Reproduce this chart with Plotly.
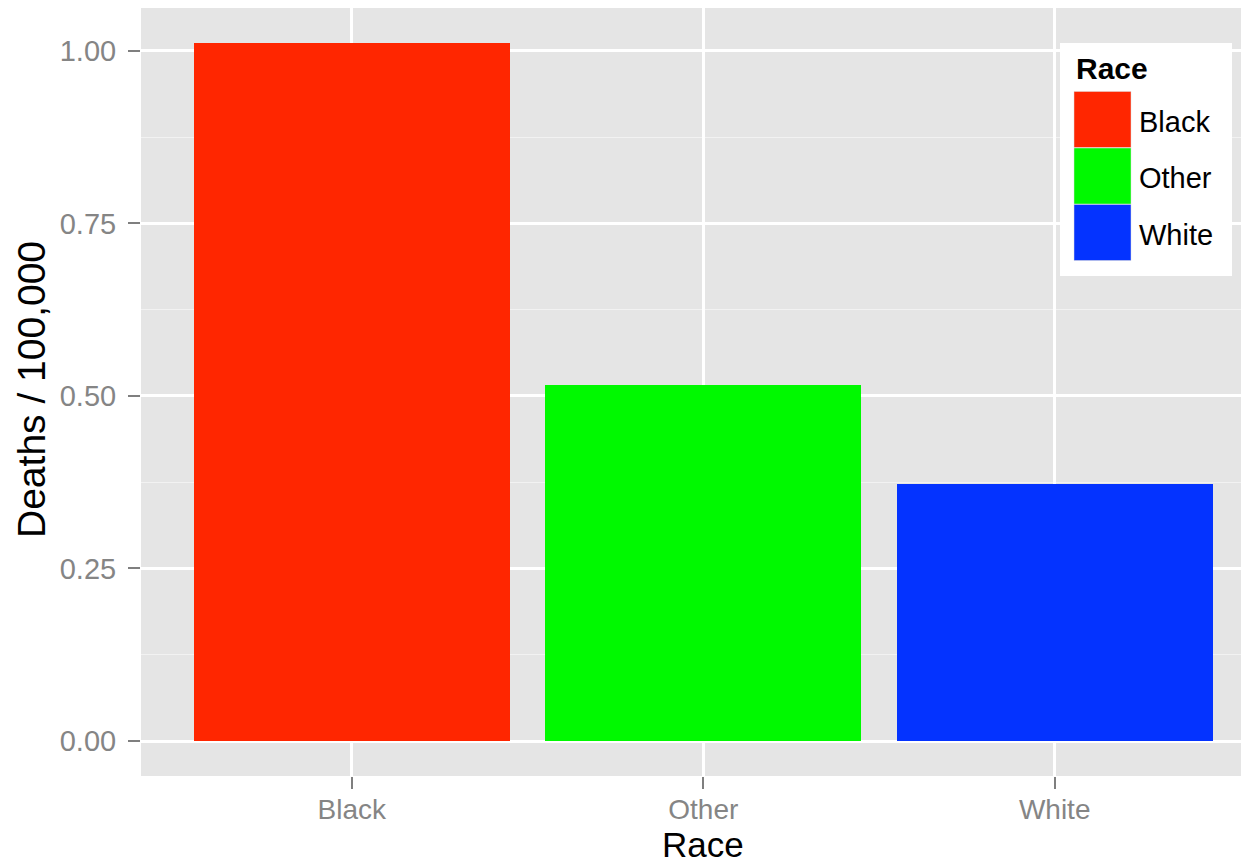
import plotly.graph_objects as go

# ---- data ----
categories = ["Black", "Other", "White"]
deaths_per_100k = [1.012, 0.516, 0.373]
bar_colors = ["#FF2600", "#00F900", "#0433FF"]
y_tick_vals = [0.0, 0.25, 0.5, 0.75, 1.0]
y_tick_text = ["0.00", "0.25", "0.50", "0.75", "1.00"]
legend_title = "Race"

# page body has an 8px margin; compensate so the panel lands where it should
OFF = 8
PANEL_L, PANEL_T, PANEL_R, PANEL_B = 141, 8, 1249, 776
W, H = 1249 - OFF, 865 - OFF
L = PANEL_L - OFF
T = PANEL_T - OFF
R = 0
B = H - (PANEL_B - OFF)
PW, PH = PANEL_R - PANEL_L, PANEL_B - PANEL_T

def px(x):
    return (x - PANEL_L) / PW

def py(y):
    return (PANEL_B - y) / PH

FONT = "Liberation Sans, Arial, Helvetica, sans-serif"

fig = go.Figure()
fig.add_trace(go.Bar(
    x=categories, y=deaths_per_100k, width=0.9,
    marker=dict(color=bar_colors, line=dict(width=0)),
    showlegend=False,
))

# manual ggplot-like legend
shapes = [dict(type="rect", xref="paper", yref="paper",
               x0=px(1060), x1=px(1232), y0=py(276), y1=py(43),
               fillcolor="white", line=dict(width=0), layer="above")]
annotations = [dict(text="<b>%s</b>" % legend_title, xref="paper", yref="paper",
                    x=px(1074), y=py(68), xanchor="left", yanchor="middle",
                    showarrow=False, font=dict(family=FONT, size=30, color="black"))]
for i, (cat, col) in enumerate(zip(categories, bar_colors)):
    top = 91.5 + i * 56.5
    shapes.append(dict(type="rect", xref="paper", yref="paper",
                       x0=px(1074), x1=px(1131), y0=py(top + 56), y1=py(top),
                       fillcolor=col, line=dict(width=0.5, color="#DDDDDD"), layer="above"))
    annotations.append(dict(text=cat, xref="paper", yref="paper",
                            x=px(1137), y=py(top + 30), xanchor="left", yanchor="middle",
                            showarrow=False, font=dict(family=FONT, size=29, color="black")))

# axis titles
annotations.append(dict(text="Race", xref="paper", yref="paper",
                        x=px(703), y=py(865), xanchor="center", yanchor="bottom",
                        borderpad=0,
                        showarrow=False, font=dict(family=FONT, size=35, color="black")))
annotations.append(dict(text="Deaths / 100,000", xref="paper", yref="paper",
                        x=px(31), y=py(390), xanchor="center", yanchor="middle", textangle=-90,
                        showarrow=False, font=dict(family=FONT, size=39, color="black")))

fig.update_layout(
    width=W, height=H,
    margin=dict(l=L, r=R, t=T, b=B, pad=0),
    paper_bgcolor="white", plot_bgcolor="#E5E5E5",
    font=dict(family=FONT),
    bargap=0,
    shapes=shapes, annotations=annotations,
    showlegend=False,
    xaxis=dict(
        range=[-0.6, 2.553], showgrid=True, gridcolor="white", gridwidth=2.5,
        ticks="outside", ticklen=12, tickwidth=2, tickcolor="#7F7F7F",
        tickfont=dict(family=FONT, size=28, color="#858585"),
        ticklabelstandoff=-4,
        zeroline=False, showline=False, automargin=False,
    ),
    yaxis=dict(
        range=[-0.0507, 1.062], tickvals=y_tick_vals, ticktext=y_tick_text,
        showgrid=True, gridcolor="white", gridwidth=2.5,
        minor=dict(dtick=0.125, tick0=0.125, showgrid=True, gridcolor="#F2F2F2", gridwidth=1.3),
        ticks="outside", ticklen=12, tickwidth=2, tickcolor="#7F7F7F",
        tickfont=dict(family=FONT, size=29, color="#858585"),
        ticklabelstandoff=6,
        zeroline=False, showline=False, automargin=False,
    ),
)

fig.write_html("out.html")
